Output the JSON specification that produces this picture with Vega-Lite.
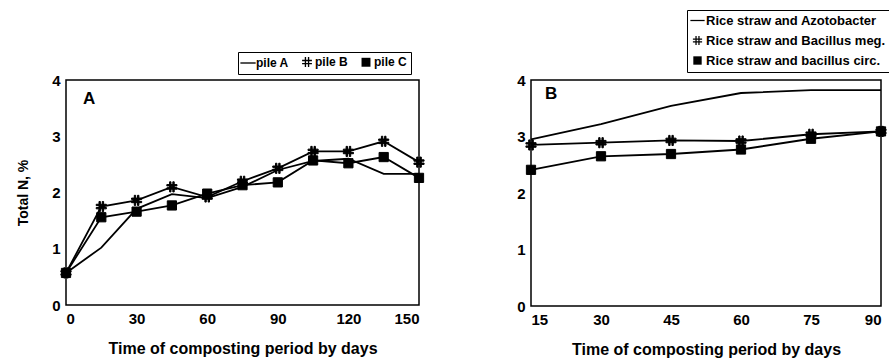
{
  "$schema": "https://vega.github.io/schema/vega-lite/v6.json",
  "padding": {"top": 8, "left": 15, "right": 4, "bottom": 2},
  "background": "white",
  "config": {
    "font": "Liberation Sans",
    "view": {"stroke": "black", "strokeWidth": 1.5},
    "axis": {"domain": false, "ticks": false, "grid": false, "labelFont": "Liberation Sans", "labelFontWeight": "bold", "labelFontSize": 15, "labelColor": "black", "titleFont": "Liberation Sans", "titleFontWeight": "bold", "titleFontSize": 16, "titleColor": "black"},
    "legend": {"labelFont": "Liberation Sans", "labelFontWeight": "bold", "labelColor": "black", "symbolFillColor": "black", "symbolStrokeColor": "black", "strokeColor": "black", "labelLimit": 400}
  },
  "datasets": {
    "A": [
      {"day": 0, "n": 0.57, "series": "pile A"}, {"day": 15, "n": 1.02, "series": "pile A"}, {"day": 30, "n": 1.71, "series": "pile A"}, {"day": 45, "n": 1.97, "series": "pile A"}, {"day": 60, "n": 1.9, "series": "pile A"}, {"day": 75, "n": 2.1, "series": "pile A"}, {"day": 90, "n": 2.4, "series": "pile A"}, {"day": 105, "n": 2.56, "series": "pile A"}, {"day": 120, "n": 2.6, "series": "pile A"}, {"day": 135, "n": 2.33, "series": "pile A"}, {"day": 150, "n": 2.33, "series": "pile A"},
      {"day": 0, "n": 0.57, "series": "pile B"}, {"day": 15, "n": 1.75, "series": "pile B"}, {"day": 30, "n": 1.86, "series": "pile B"}, {"day": 45, "n": 2.1, "series": "pile B"}, {"day": 60, "n": 1.92, "series": "pile B"}, {"day": 75, "n": 2.2, "series": "pile B"}, {"day": 90, "n": 2.43, "series": "pile B"}, {"day": 105, "n": 2.73, "series": "pile B"}, {"day": 120, "n": 2.73, "series": "pile B"}, {"day": 135, "n": 2.91, "series": "pile B"}, {"day": 150, "n": 2.54, "series": "pile B"},
      {"day": 0, "n": 0.57, "series": "pile C"}, {"day": 15, "n": 1.56, "series": "pile C"}, {"day": 30, "n": 1.66, "series": "pile C"}, {"day": 45, "n": 1.77, "series": "pile C"}, {"day": 60, "n": 1.98, "series": "pile C"}, {"day": 75, "n": 2.13, "series": "pile C"}, {"day": 90, "n": 2.18, "series": "pile C"}, {"day": 105, "n": 2.57, "series": "pile C"}, {"day": 120, "n": 2.52, "series": "pile C"}, {"day": 135, "n": 2.63, "series": "pile C"}, {"day": 150, "n": 2.26, "series": "pile C"}
    ],
    "B": [
      {"day": 15, "n": 2.95, "series": "Rice straw and Azotobacter"}, {"day": 30, "n": 3.22, "series": "Rice straw and Azotobacter"}, {"day": 45, "n": 3.54, "series": "Rice straw and Azotobacter"}, {"day": 60, "n": 3.77, "series": "Rice straw and Azotobacter"}, {"day": 75, "n": 3.82, "series": "Rice straw and Azotobacter"}, {"day": 90, "n": 3.82, "series": "Rice straw and Azotobacter"},
      {"day": 15, "n": 2.85, "series": "Rice straw and Bacillus meg."}, {"day": 30, "n": 2.89, "series": "Rice straw and Bacillus meg."}, {"day": 45, "n": 2.93, "series": "Rice straw and Bacillus meg."}, {"day": 60, "n": 2.92, "series": "Rice straw and Bacillus meg."}, {"day": 75, "n": 3.04, "series": "Rice straw and Bacillus meg."}, {"day": 90, "n": 3.09, "series": "Rice straw and Bacillus meg."},
      {"day": 15, "n": 2.41, "series": "Rice straw and bacillus circ."}, {"day": 30, "n": 2.65, "series": "Rice straw and bacillus circ."}, {"day": 45, "n": 2.69, "series": "Rice straw and bacillus circ."}, {"day": 60, "n": 2.77, "series": "Rice straw and bacillus circ."}, {"day": 75, "n": 2.96, "series": "Rice straw and bacillus circ."}, {"day": 90, "n": 3.09, "series": "Rice straw and bacillus circ."}
    ]
  },
  "hconcat": [
    {
      "width": 353,
      "height": 225,
      "data": {"name": "A"},
      "layer": [
        {
          "mark": {"type": "line", "stroke": "black", "strokeWidth": 1.8},
          "encoding": {
            "x": {"field": "day", "type": "quantitative", "scale": {"domain": [0, 150], "nice": false}, "axis": {"values": [0, 30, 60, 90, 120, 150], "format": "d", "title": "Time of composting period by days", "labelPadding": 6, "titlePadding": 14}},
            "y": {"field": "n", "type": "quantitative", "scale": {"domain": [0, 4], "nice": false}, "axis": {"values": [0, 1, 2, 3, 4], "format": "d", "title": "Total N, %", "titleFontSize": 14, "labelPadding": 6, "titlePadding": 21}},
            "detail": {"field": "series"}
          }
        },
        {
          "transform": [{"filter": "datum.series != 'pile A'"}],
          "mark": {"type": "point", "filled": true, "fill": "black", "stroke": "black", "strokeWidth": 1, "opacity": 1},
          "encoding": {
            "x": {"field": "day", "type": "quantitative"},
            "y": {"field": "n", "type": "quantitative"},
            "size": {"value": 85},
            "shape": {
              "field": "series", "type": "nominal",
              "scale": {"domain": ["pile A", "pile B", "pile C"], "range": ["M-1.7,-0.15L1.7,-0.15L1.7,0.15L-1.7,0.15Z", "M-0.5,-1.1L-0.2,-1.1L-0.2,1.1L-0.5,1.1ZM0.2,-1.1L0.5,-1.1L0.5,1.1L0.2,1.1ZM-1.1,-0.5L1.1,-0.5L1.1,-0.2L-1.1,-0.2ZM-1.1,0.2L1.1,0.2L1.1,0.5L-1.1,0.5Z", "square"]},
              "legend": {"title": null, "orient": "none", "legendX": 172, "legendY": -28, "direction": "horizontal", "labelFontSize": 12, "symbolSize": 80, "symbolFillColor": "black", "padding": 4, "columnPadding": 10, "labelOffset": 2}
            }
          }
        },
        {
          "data": {"values": [{"label": "A", "day": 9.8, "n": 3.67}]},
          "mark": {"type": "text", "fontWeight": "bold", "fontSize": 17, "font": "Liberation Sans", "color": "black"},
          "encoding": {
            "x": {"field": "day", "type": "quantitative"},
            "y": {"field": "n", "type": "quantitative"},
            "text": {"field": "label"}
          }
        }
      ]
    },
    {
      "width": 350,
      "height": 226,
      "data": {"name": "B"},
      "layer": [
        {
          "mark": {"type": "line", "stroke": "black", "strokeWidth": 1.8},
          "encoding": {
            "x": {"field": "day", "type": "quantitative", "scale": {"domain": [15, 90], "nice": false}, "axis": {"values": [15, 30, 45, 60, 75, 90], "format": "d", "title": "Time of composting period by days", "labelPadding": 6, "titlePadding": 14}},
            "y": {"field": "n", "type": "quantitative", "scale": {"domain": [0, 4], "nice": false}, "axis": {"values": [0, 1, 2, 3, 4], "format": "d", "title": null, "labelPadding": 6}},
            "detail": {"field": "series"}
          }
        },
        {
          "transform": [{"filter": "datum.series != 'Rice straw and Azotobacter'"}],
          "mark": {"type": "point", "filled": true, "fill": "black", "stroke": "black", "strokeWidth": 1, "opacity": 1},
          "encoding": {
            "x": {"field": "day", "type": "quantitative"},
            "y": {"field": "n", "type": "quantitative"},
            "size": {"value": 85},
            "shape": {
              "field": "series", "type": "nominal",
              "scale": {"domain": ["Rice straw and Azotobacter", "Rice straw and Bacillus meg.", "Rice straw and bacillus circ."], "range": ["M-1.7,-0.15L1.7,-0.15L1.7,0.15L-1.7,0.15Z", "M-0.5,-1.1L-0.2,-1.1L-0.2,1.1L-0.5,1.1ZM0.2,-1.1L0.5,-1.1L0.5,1.1L0.2,1.1ZM-1.1,-0.5L1.1,-0.5L1.1,-0.2L-1.1,-0.2ZM-1.1,0.2L1.1,0.2L1.1,0.5L-1.1,0.5Z", "square"]},
              "legend": {"title": null, "orient": "none", "legendX": 156, "legendY": -70, "direction": "vertical", "labelFontSize": 13, "symbolSize": 70, "symbolFillColor": "black", "padding": 4, "rowPadding": 4, "labelOffset": 2}
            }
          }
        },
        {
          "data": {"values": [{"label": "B", "day": 19.3, "n": 3.75}]},
          "mark": {"type": "text", "fontWeight": "bold", "fontSize": 17, "font": "Liberation Sans", "color": "black"},
          "encoding": {
            "x": {"field": "day", "type": "quantitative"},
            "y": {"field": "n", "type": "quantitative"},
            "text": {"field": "label"}
          }
        }
      ]
    }
  ],
  "resolve": {"scale": {"shape": "independent", "x": "independent", "y": "independent"}, "legend": {"shape": "independent"}},
  "spacing": 112,
  "bounds": "flush"
}
